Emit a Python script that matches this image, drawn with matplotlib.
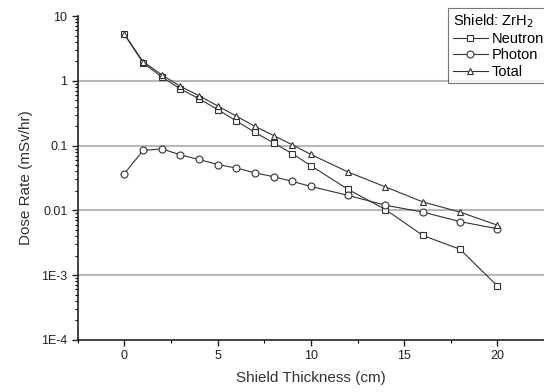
import matplotlib.pyplot as plt
import matplotlib.ticker as ticker

plt.rcParams['font.family'] = ['Liberation Sans', 'DejaVu Sans']

thickness = [0, 1, 2, 3, 4, 5, 6, 7, 8, 9, 10, 12, 14, 16, 18, 20]
neutron = [5.2, 1.9, 1.15, 0.75, 0.53, 0.36, 0.24, 0.16, 0.11, 0.075,
           0.049, 0.021, 0.0103, 0.0041, 0.0025, 0.00068]
photon = [0.037, 0.084, 0.089, 0.072, 0.061, 0.051, 0.045, 0.038, 0.033,
          0.028, 0.0234, 0.017, 0.012, 0.0094, 0.0067, 0.0052]
total = [5.24, 1.98, 1.24, 0.82, 0.59, 0.41, 0.285, 0.198, 0.143, 0.103,
         0.073, 0.039, 0.023, 0.0135, 0.0094, 0.0059]

yticks = [1e-4, 1e-3, 1e-2, 1e-1, 1, 10]
ylabels = ['1E-4', '1E-3', '0.01', '0.1', '1', '10']

fig = plt.figure(figsize=(5.44, 3.92), dpi=100)
ax = fig.add_axes([0.143, 0.133, 0.857, 0.826])

for yv in [1e-3, 1e-2, 1e-1, 1]:
    ax.axhline(yv, color='#b8b8b8', lw=1.5, zorder=0)

kw = dict(color='#333333', lw=0.8, markersize=5, markerfacecolor='white',
          markeredgecolor='#333333', markeredgewidth=0.8)
ax.plot(thickness, neutron, marker='s', label='Neutron', **kw)
ax.plot(thickness, photon, marker='o', label='Photon', **kw)
ax.plot(thickness, total, marker='^', label='Total', **kw)

ax.set_yscale('log')
ax.set_ylim(1e-4, 10)
ax.set_xlim(-2.5, 22.5)
ax.set_yticks(yticks)
ax.set_yticklabels(ylabels)
ax.yaxis.set_minor_locator(ticker.LogLocator(base=10, subs=range(2, 10)))
ax.yaxis.set_minor_formatter(ticker.NullFormatter())
ax.set_xticks([0, 5, 10, 15, 20])
ax.xaxis.set_minor_locator(ticker.MultipleLocator(2.5))

for s in ['top', 'right']:
    ax.spines[s].set_visible(False)
for s in ['left', 'bottom']:
    ax.spines[s].set_linewidth(1.2)
    ax.spines[s].set_color('#222222')

ax.tick_params(which='major', direction='out', length=4, width=1, labelsize=9, colors='#222222')
ax.tick_params(which='minor', direction='out', length=2, width=0.8)

ax.set_xlabel('Shield Thickness (cm)', fontsize=11, color='#333333', labelpad=6)
ax.set_ylabel('Dose Rate (mSv/hr)', fontsize=11, color='#333333', labelpad=6)

leg = ax.legend(title='Shield: ZrH$_2$', loc='upper right', bbox_to_anchor=(1.01, 1.025),
                fontsize=10.5, title_fontsize=10.5, frameon=True, fancybox=False,
                handlelength=2.4, handletextpad=0.3, borderpad=0.3, labelspacing=0.15,
                borderaxespad=0.0)
leg._legend_box.align = 'left'
leg.get_frame().set_edgecolor('#555555')
leg.get_frame().set_linewidth(0.8)

fig.savefig('out.png', dpi=100)
